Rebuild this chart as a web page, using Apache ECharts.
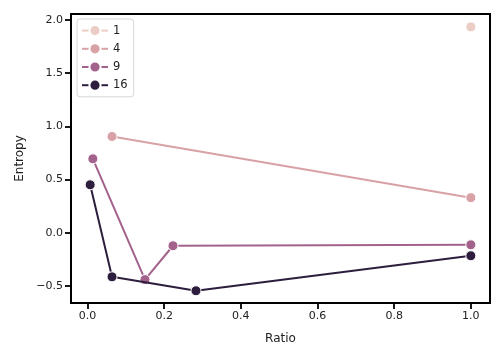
<!DOCTYPE html>
<html><head><meta charset="utf-8">
<script src="https://cdn.jsdelivr.net/npm/echarts@6/dist/echarts.min.js"></script>
<style>html,body{margin:0;padding:0;background:#fff}#c{width:504px;height:360px}</style>
</head><body><div id="c"></div>
<script>
const seriesNames = ["1", "4", "9", "16"];
const colors = ["#ebcdc6", "#d8a1a6", "#a3628b", "#2d1e3e"];
const s1 = [[1.0, 1.935]];
const s4 = [[0.064, 0.905], [1.0, 0.33]];
const s9 = [[0.014, 0.695], [0.15, -0.44], [0.223, -0.122], [1.0, -0.113]];
const s16 = [[0.007, 0.451], [0.064, -0.414], [0.283, -0.545], [1.0, -0.216]];
const xTicks = [0, 0.2, 0.4, 0.6, 0.8, 1.0];
const yTicks = [-0.5, 0, 0.5, 1.0, 1.5, 2.0];
const allData = [s1, s4, s9, s16];

const chart = echarts.init(document.getElementById('c'), null, {renderer: 'canvas'});
const font = 'DejaVu Sans';
chart.setOption({
  animation: false,
  backgroundColor: '#fff',
  grid: {left: 71, right: 14, top: 14, bottom: 57, show: true, borderColor: '#000', borderWidth: 2, backgroundColor: 'transparent'},
  xAxis: {
    type: 'value', min: -0.043, max: 1.05,
    name: 'Ratio', nameLocation: 'middle', nameGap: 30,
    nameTextStyle: {fontFamily: font, fontSize: 12, color: '#222'},
    axisLine: {show: true, onZero: false, lineStyle: {color: '#000', width: 2}},
    axisTick: {show: true, inside: false, length: 6, lineStyle: {color: '#000', width: 1.8}, customValues: xTicks},
    axisLabel: {fontFamily: font, fontSize: 11, color: '#222', margin: 8, customValues: xTicks,
      formatter: v => v.toFixed(1)},
    splitLine: {show: false}
  },
  yAxis: {
    type: 'value', min: -0.66, max: 2.056,
    name: 'Entropy', nameLocation: 'middle', nameGap: 44,
    nameTextStyle: {fontFamily: font, fontSize: 12, color: '#222'},
    axisLine: {show: true, onZero: false, lineStyle: {color: '#000', width: 2}},
    axisTick: {show: true, inside: false, length: 6, lineStyle: {color: '#000', width: 1.8}, customValues: yTicks},
    axisLabel: {fontFamily: font, fontSize: 11, color: '#222', margin: 8, customValues: yTicks,
      formatter: v => (v < 0 ? '\u2212' + Math.abs(v).toFixed(1) : v.toFixed(1))},
    splitLine: {show: false}
  },
  legend: {
    orient: 'vertical', left: 77, top: 19,
    data: seriesNames,
    borderColor: '#d8d8d8', borderWidth: 1, borderRadius: 3,
    padding: [5, 6, 5, 4], itemGap: 5, itemWidth: 26, itemHeight: 14,
    textStyle: {fontFamily: font, fontSize: 11.5, color: '#222'}
  },
  series: allData.map((d, i) => ({
    name: seriesNames[i], type: 'line', data: d,
    color: colors[i],
    symbol: 'circle', symbolSize: 10,
    lineStyle: {width: 2, color: colors[i]},
    itemStyle: {color: colors[i], borderColor: '#fff', borderWidth: 1},
    z: 2 + i
  }))
});
</script></body></html>
